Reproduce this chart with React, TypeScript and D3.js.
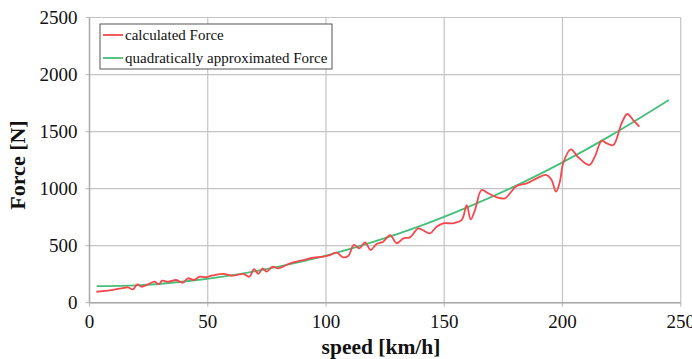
import React from "react";
import * as d3 from "d3";

const W = 692;
const H = 359;

// calculated Force (red) - speed [km/h]
const calcSpeed = [2.9, 7.8, 13.5, 16.3, 18.4, 20.2, 21.9, 24.7, 27.6, 29.3, 30.7, 33.2, 36.7, 39.5, 41.6, 44.2, 46.6, 48.7, 52.2, 56.6, 60.8, 65, 67.6, 69.6, 71.4, 73.2, 74.9, 77.5, 79.8, 84.8, 90.4, 94.6, 98.9, 101.7, 104.5, 107.3, 109.4, 111.8, 114.1, 116.5, 118.9, 121.4, 124.2, 127.1, 129.9, 132.7, 135.5, 139, 140.9, 144, 146.8, 149.6, 153.8, 157.4, 159.5, 161.2, 163, 165.8, 168.6, 172.2, 175.7, 177.8, 180.6, 184.9, 189.1, 193.3, 195.4, 197.3, 198.9, 200.3, 203.5, 206.7, 211.3, 213.7, 216.6, 218.7, 221.5, 225, 227.4, 229.9, 232.5];
// calculated Force (red) - force [N]
const calcForce = [96, 105, 126, 135, 117, 161, 140, 161, 184, 161, 193, 184, 199, 175, 214, 199, 228, 223, 240, 252, 237, 252, 228, 295, 252, 301, 272, 316, 301, 345, 374, 394, 403, 418, 438, 398, 409, 506, 477, 529, 462, 514, 535, 593, 521, 564, 573, 652, 637, 608, 666, 696, 696, 725, 856, 731, 812, 988, 959, 924, 915, 959, 1023, 1046, 1090, 1119, 1075, 973, 1060, 1222, 1344, 1274, 1207, 1280, 1420, 1397, 1382, 1572, 1654, 1601, 1543];

// quadratically approximated Force (green)
const approxSpeed = [3, 20, 40, 60, 80, 100, 120, 140, 160, 180, 200, 220, 245];
const approxForce = [145, 152, 186, 240, 316, 413, 533, 674, 838, 1022, 1230, 1460, 1777];

const xTicks = [0, 50, 100, 150, 200, 250];
const yTicks = [0, 500, 1000, 1500, 2000, 2500];

const seriesNames = ["calculated Force", "quadratically approximated Force"];
const seriesColors = ["#f5474c", "#45bf79"];

const margin = { left: 89.5, right: W - 680.7, top: 17.5, bottom: H - 302.7 };

export default function App() {
  const x = d3.scaleLinear().domain([0, 250]).range([margin.left, W - margin.right]);
  const y = d3.scaleLinear().domain([0, 2500]).range([H - margin.bottom, margin.top]);

  const line = d3
    .line<[number, number]>()
    .x((d) => x(d[0]))
    .y((d) => y(d[1]))
    .curve(d3.curveCatmullRom.alpha(0.5));

  const calcPts = calcSpeed.map((s, i) => [s, calcForce[i]] as [number, number]);
  const approxPts = approxSpeed.map((s, i) => [s, approxForce[i]] as [number, number]);

  const font = "'Liberation Serif', 'Times New Roman', serif";
  const grid = "#c4c4c4";

  return (
    <svg
      width={W}
      height={H}
      style={{ position: "absolute", left: 0, top: 0, background: "#fff" }}
      fontFamily={font}
    >
      {/* gridlines */}
      {yTicks.map((t) => (
        <line key={"gy" + t} x1={x(0) - 4} x2={x(250)} y1={y(t)} y2={y(t)} stroke={grid} strokeWidth={1.2} />
      ))}
      {xTicks.map((t) => (
        <line key={"gx" + t} x1={x(t)} x2={x(t)} y1={y(2500)} y2={y(0) + 4} stroke={grid} strokeWidth={1.2} />
      ))}
      {/* axes */}
      <line x1={x(0)} x2={x(250)} y1={y(0)} y2={y(0)} stroke="#a8a8a8" strokeWidth={1.4} />
      <line x1={x(0)} x2={x(0)} y1={y(0)} y2={y(2500)} stroke="#a8a8a8" strokeWidth={1.4} />

      {/* tick labels */}
      {yTicks.map((t) => (
        <text key={"ly" + t} x={x(0) - 12} y={y(t)} dy="0.35em" textAnchor="end" fontSize={19} fill="#111" fontFamily={font}>
          {t}
        </text>
      ))}
      {xTicks.map((t) => (
        <text key={"lx" + t} x={x(t)} y={y(0) + 25} textAnchor="middle" fontSize={19} fill="#111" fontFamily={font}>
          {t}
        </text>
      ))}

      {/* axis titles */}
      <text x={381} y={354} textAnchor="middle" fontSize={21.5} fontWeight="bold" fill="#111" fontFamily={font}>
        speed [km/h]
      </text>
      <text
        transform={`translate(25, 165) rotate(-90)`}
        textAnchor="middle"
        fontSize={22}
        fontWeight="bold"
        fill="#111"
        fontFamily={font}
      >
        Force [N]
      </text>

      {/* series */}
      <path d={line(approxPts) || ""} fill="none" stroke={seriesColors[1]} strokeWidth={1.8} />
      <path d={line(calcPts) || ""} fill="none" stroke={seriesColors[0]} strokeWidth={1.8} />

      {/* legend */}
      <rect x={100} y={24} width={232} height={45} fill="#fff" stroke="#555" strokeWidth={1} />
      {seriesNames.map((n, i) => (
        <g key={n}>
          <line x1={103} x2={123} y1={35 + i * 23} y2={35 + i * 23} stroke={seriesColors[i]} strokeWidth={1.8} />
          <text x={125} y={35 + i * 23} dy="0.35em" fontSize={15} fill="#111" fontFamily={font}>
            {n}
          </text>
        </g>
      ))}
    </svg>
  );
}
